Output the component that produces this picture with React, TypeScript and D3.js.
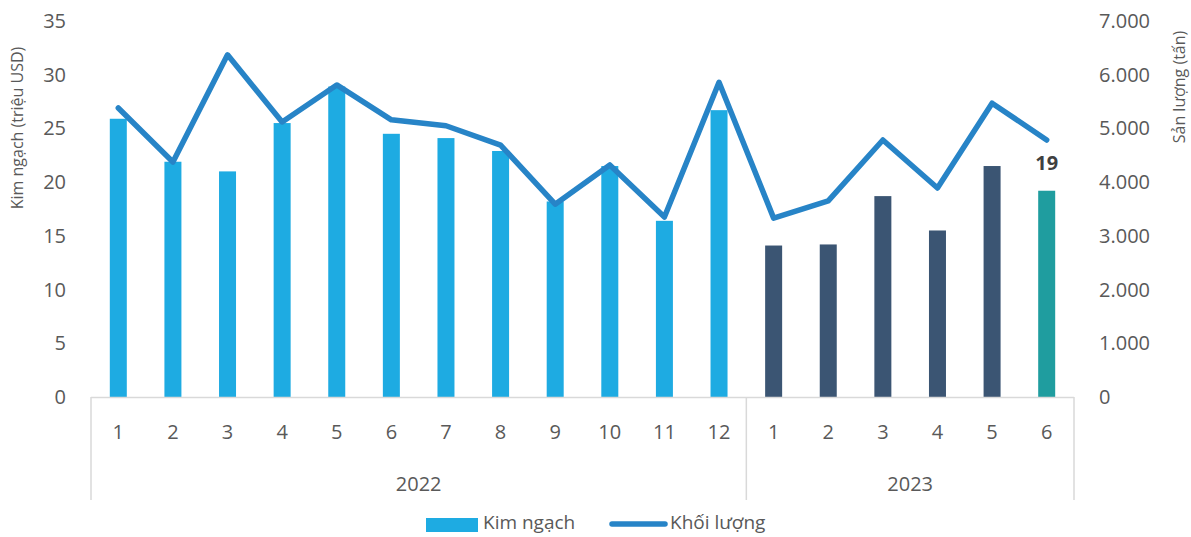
import React from "react";
import * as d3 from "d3";

const months = ["1","2","3","4","5","6","7","8","9","10","11","12","1","2","3","4","5","6"];
const years = [
  { label: "2022", count: 12 },
  { label: "2023", count: 6 },
];
const kimNgach = [25.9, 21.9, 21.0, 25.5, 28.9, 24.5, 24.1, 22.9, 18.2, 21.5, 16.4, 26.7, 14.1, 14.2, 18.7, 15.5, 21.5, 19.2];
const khoiLuong = [5380, 4375, 6370, 5120, 5810, 5160, 5050, 4690, 3590, 4320, 3350, 5860, 3330, 3650, 4785, 3890, 5470, 4785];
const leftTicks = [0, 5, 10, 15, 20, 25, 30, 35];
const rightTicks = [0, 1000, 2000, 3000, 4000, 5000, 6000, 7000];

const W = 1191, H = 537;
const x0 = 91, x1 = 1074, yBase = 397, yTop = 21;
const FONT = "Open Sans, sans-serif";
const TXT = "#595959";

export default function App() {
  const yL = d3.scaleLinear().domain([0, 35]).range([yBase, yTop]);
  const yR = d3.scaleLinear().domain([0, 7000]).range([yBase, yTop]);
  const step = (x1 - x0) / months.length;
  const cx = (i: number) => x0 + step * (i + 0.5);
  const bw = 17;
  const line = d3.line<number>().x((_, i) => cx(i)).y((d) => yR(d));
  const barColor = (i: number) => (i < 12 ? "#1EABE2" : i === 17 ? "#1F9D9F" : "#3B5573");

  const fmt = (v: number) => d3.format(",")(v).replace(/,/g, ".");

  let acc = 0;
  const groupBounds = years.map((y) => {
    const s = acc;
    acc += y.count;
    return { ...y, start: s, end: acc };
  });

  return (
    <svg width={W} height={H} style={{ display: "block", position: "absolute", left: 0, top: 0 }} fontFamily={FONT}>
      <rect width={W} height={H} fill="#fff" />
      {leftTicks.map((t) => (
        <text key={"l" + t} x={66} y={yL(t)} dy="0.35em" textAnchor="end" fontSize={20} fill={TXT}>{t}</text>
      ))}
      {rightTicks.map((t) => (
        <text key={"r" + t} x={1099} y={yR(t)} dy="0.35em" textAnchor="start" fontSize={20} fill={TXT}>{fmt(t)}</text>
      ))}
      <text transform={`translate(17,128) rotate(-90)`} textAnchor="middle" dy="0.35em" fontSize={16} fill={TXT}>Kim ngạch (triệu USD)</text>
      <text transform={`translate(1179,87) rotate(-90)`} textAnchor="middle" dy="0.35em" fontSize={16} fill={TXT}>Sản lượng (tấn)</text>

      {kimNgach.map((v, i) => (
        <rect key={"b" + i} x={cx(i) - bw / 2} y={yL(v)} width={bw} height={yBase - yL(v)} fill={barColor(i)} />
      ))}
      <path d={line(khoiLuong) || ""} fill="none" stroke="#2784C7" strokeWidth={5.5} strokeLinejoin="round" strokeLinecap="round" />
      <text x={cx(17)} y={163} dy="0.35em" textAnchor="middle" fontSize={20} fontWeight="bold" fill="#404040">{Math.round(kimNgach[17])}</text>

      <line x1={x0} x2={x1} y1={yBase + 0.5} y2={yBase + 0.5} stroke="#D9D9D9" strokeWidth={1.5} />
      {groupBounds.map((g) => (
        <line key={"v" + g.label} x1={x0 + step * g.start} x2={x0 + step * g.start} y1={yBase} y2={500} stroke="#D9D9D9" strokeWidth={1.5} />
      ))}
      <line x1={x1} x2={x1} y1={yBase} y2={500} stroke="#D9D9D9" strokeWidth={1.5} />
      {months.map((m, i) => (
        <text key={"m" + i} x={cx(i)} y={432} dy="0.35em" textAnchor="middle" fontSize={20} fill={TXT}>{m}</text>
      ))}
      {groupBounds.map((g) => (
        <text key={"y" + g.label} x={x0 + step * (g.start + g.end) / 2} y={484} dy="0.35em" textAnchor="middle" fontSize={20} fill={TXT}>{g.label}</text>
      ))}

      <rect x={426} y={518} width={52} height={14} fill="#1EABE2" />
      <text x={483} y={522} dy="0.35em" fontSize={19} fill={TXT}>Kim ngạch</text>
      <line x1={612} x2={665} y1={524} y2={524} stroke="#2784C7" strokeWidth={5.5} strokeLinecap="round" />
      <text x={670} y={522} dy="0.35em" fontSize={19} fill={TXT}>Khối lượng</text>
    </svg>
  );
}
